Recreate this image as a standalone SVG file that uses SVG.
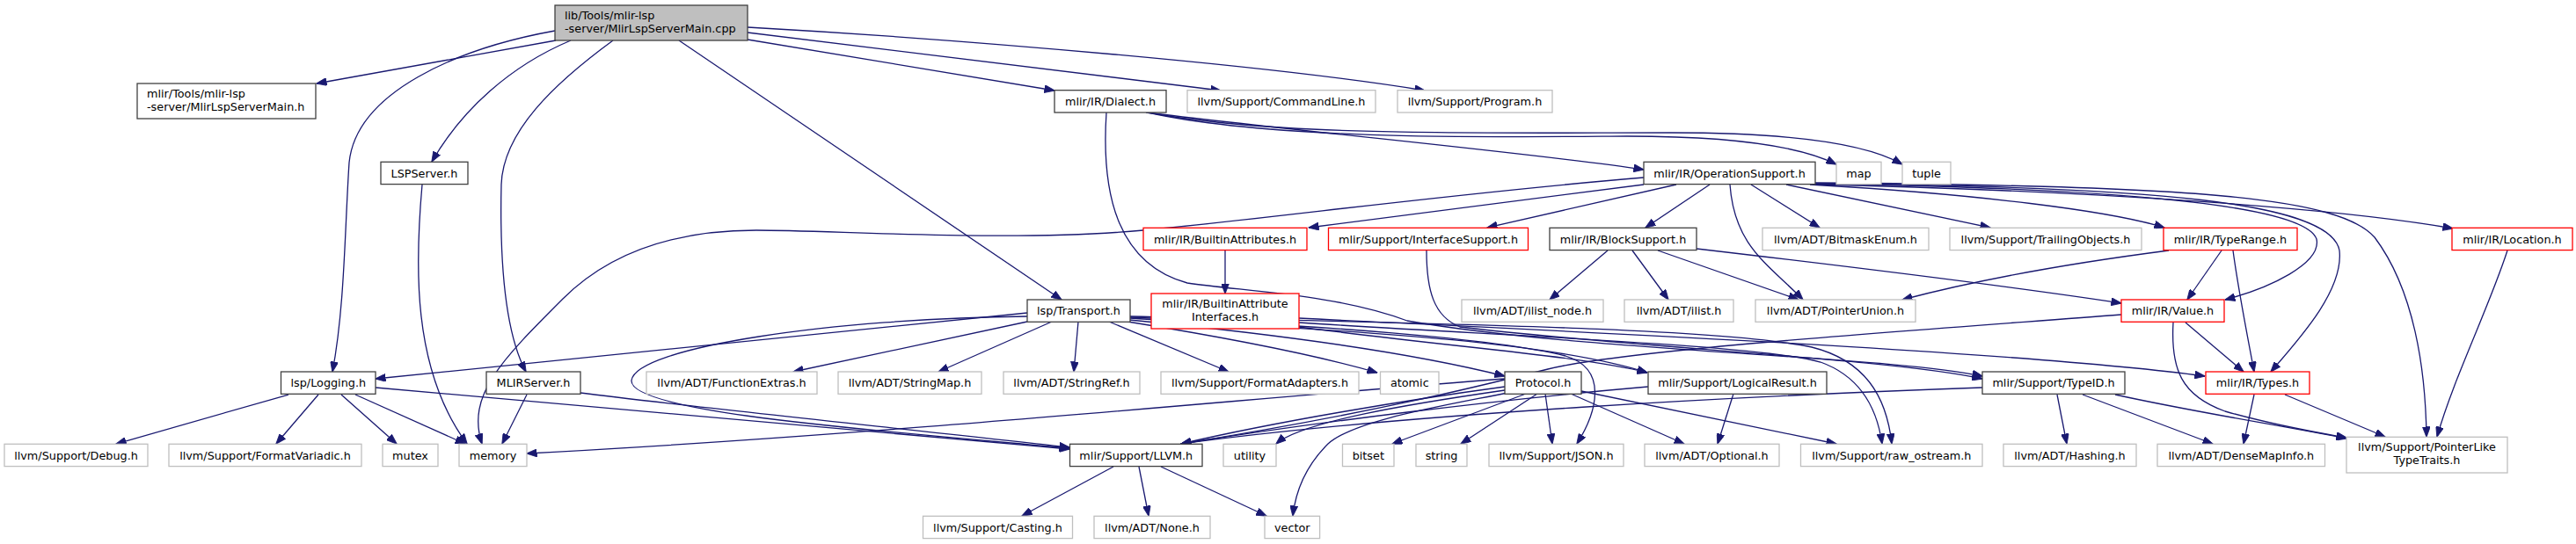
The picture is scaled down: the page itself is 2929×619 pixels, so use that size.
<svg xmlns="http://www.w3.org/2000/svg" width="2929" height="619" viewBox="0 0 2929 619">
<defs>
<marker id="ah" viewBox="0 0 12 9" refX="11.5" refY="4.5" markerWidth="12" markerHeight="9" markerUnits="userSpaceOnUse" orient="auto"><path d="M0,0L12,4.5L0,9z" fill="#191970" stroke="#191970" stroke-width="0.8"/></marker>
</defs>
<style>
text{font-family:"DejaVu Sans","Liberation Sans",sans-serif;font-size:12.8px;fill:#000;text-anchor:middle}
.l{text-anchor:start}
rect{stroke-width:1.3}
.g{fill:#fff;stroke:#bfbfbf}
.b{fill:#fff;stroke:#404040}
.r{fill:#fff;stroke:#ff0000}
.root{fill:#bfbfbf;stroke:#404040}
#edges path{fill:none;stroke:#191970;stroke-width:1.3;marker-end:url(#ah)}
</style>
<rect width="2929" height="619" fill="#fff"/>
<g id="edges">
<path d="M632,46 L360,95"/>
<path d="M649,46 C580,75 525,125 491,184"/>
<path d="M631,35 C520,55 405,105 397,185 C392,260 392,350 378,423"/>
<path d="M697,46 C630,95 572,150 570,210 C568,300 575,380 598,423"/>
<path d="M772,46 L1207,341"/>
<path d="M850,45 L1199,103"/>
<path d="M850,37 L1388,103"/>
<path d="M850,31 C1100,45 1450,75 1620,103"/>
<path d="M480,210 C472,300 468,420 531,505"/>
<path d="M328,449 L132,505"/>
<path d="M362,449 L314,505"/>
<path d="M388,449 L451,505"/>
<path d="M404,449 L529,505"/>
<path d="M427,441 L1216,511"/>
<path d="M599,449 L571,505"/>
<path d="M660,447 C760,460 1000,485 1216,509"/>
<path d="M1168,356 L427,431"/>
<path d="M1168,360 C950,362 722,395 718,433 C716,470 1000,490 1216,510"/>
<path d="M1168,366 L902,423"/>
<path d="M1196,366 L1067,423"/>
<path d="M1226,366 L1221,423"/>
<path d="M1261,366 L1397,423"/>
<path d="M1282,366 C1400,385 1500,405 1566,424"/>
<path d="M1284,364 C1450,380 1600,400 1711,428"/>
<path d="M1285,362 C1500,375 1750,385 1873,424"/>
<path d="M1285,360 C1600,368 1950,372 2060,395 C2120,410 2145,450 2151,505"/>
<path d="M1285,361 C1500,370 1700,385 1780,405 C1830,420 1815,470 1793,505"/>
<path d="M1258,128 C1252,220 1270,300 1350,322 C1420,332 1520,335 1600,365 C1800,400 2150,405 2254,428"/>
<path d="M1622,285 C1622,330 1630,360 1660,372 C1850,395 2150,408 2254,431"/>
<path d="M1477,362 C1800,378 2300,400 2507,428"/>
<path d="M1477,372 C1650,395 1800,405 1873,424"/>
<path d="M1477,367 C1700,382 2000,392 2070,412 C2120,430 2135,470 2140,505"/>
<path d="M2412,358 C2150,378 1850,398 1760,420 C1680,440 1560,470 1343,505"/>
<path d="M2254,441 C2000,450 1600,470 1343,505"/>
<path d="M1874,440 C1700,455 1500,480 1343,505"/>
<path d="M1711,440 C1600,455 1450,480 1343,505"/>
<path d="M1711,444 C1600,460 1480,480 1451,505"/>
<path d="M1714,447 C1640,462 1540,478 1510,505 C1485,530 1473,560 1470,587"/>
<path d="M1711,431 C1400,455 1000,495 599,516"/>
<path d="M1735,448 L1583,505"/>
<path d="M1748,448 L1661,505"/>
<path d="M1757,448 L1765,505"/>
<path d="M1786,448 L1915,505"/>
<path d="M1798,445 L2088,505"/>
<path d="M1971,448 L1953,505"/>
<path d="M2339,449 L2350,505"/>
<path d="M2368,449 L2516,505"/>
<path d="M2405,449 C2500,470 2600,485 2668,499"/>
<path d="M2563,449 L2551,505"/>
<path d="M2598,449 L2712,497"/>
<path d="M2485,367 L2551,423"/>
<path d="M2471,367 C2468,420 2480,450 2530,468 C2590,485 2640,493 2668,498"/>
<path d="M1266,531 L1162,587"/>
<path d="M1295,531 L1306,587"/>
<path d="M1320,531 L1440,587"/>
<path d="M1869,202 C1650,220 1450,248 1300,262 C1150,276 950,262 860,262 C760,262 690,290 640,340 C570,410 530,450 548,505"/>
<path d="M1869,210 L1488,259"/>
<path d="M1906,210 L1691,259"/>
<path d="M1944,210 L1871,259"/>
<path d="M1967,210 C1972,280 2010,300 2050,341"/>
<path d="M1991,210 L2069,259"/>
<path d="M2031,210 L2263,259"/>
<path d="M2058,210 C2250,221 2400,240 2461,259"/>
<path d="M2061,210 C2350,216 2650,235 2789,260"/>
<path d="M2062,209 C2400,214 2620,232 2634,272 C2640,300 2580,328 2530,341"/>
<path d="M2063,209 C2450,212 2650,230 2660,285 C2665,330 2615,385 2582,423"/>
<path d="M2064,208 C2500,211 2660,225 2700,270 C2745,330 2758,420 2759,497"/>
<path d="M2851,285 C2830,350 2790,430 2771,497"/>
<path d="M2526,285 L2487,341"/>
<path d="M2539,285 C2545,330 2555,380 2563,423"/>
<path d="M2466,285 C2350,300 2250,318 2163,341"/>
<path d="M1828,285 L1762,341"/>
<path d="M1856,285 L1897,341"/>
<path d="M1885,285 L2045,341"/>
<path d="M1929,283 C2100,303 2300,328 2412,345"/>
<path d="M1393,285 L1393,334"/>
<path d="M1303,128 C1500,152 1750,175 1869,193"/>
<path d="M1305,128 C1450,160 1700,156 1850,155 C1980,155 2050,168 2088,187"/>
<path d="M1307,128 C1450,156 1700,151 1900,151 C2060,151 2130,168 2163,187"/>
</g>
<g id="n_root"><rect class="root" x="631" y="6" width="219" height="40"/><text class="l" x="642" y="21.5">lib/Tools/mlir-lsp</text><text class="l" x="642" y="36.5">-server/MlirLspServerMain.cpp</text></g>
<g id="n_main"><rect class="b" x="156" y="95" width="203" height="40"/><text class="l" x="167" y="110.5">mlir/Tools/mlir-lsp</text><text class="l" x="167" y="125.5">-server/MlirLspServerMain.h</text></g>
<g id="n_dial"><rect class="b" x="1199" y="102.7" width="127" height="25.3"/><text x="1262.5" y="119.9">mlir/IR/Dialect.h</text></g>
<g id="n_cl"><rect class="g" x="1350" y="102.7" width="214" height="25.3"/><text x="1457" y="119.9">llvm/Support/CommandLine.h</text></g>
<g id="n_prog"><rect class="g" x="1589" y="102.7" width="176" height="25.3"/><text x="1677" y="119.9">llvm/Support/Program.h</text></g>
<g id="n_lsps"><rect class="b" x="433" y="184.3" width="99" height="25.3"/><text x="482.5" y="201.5">LSPServer.h</text></g>
<g id="n_os"><rect class="b" x="1869" y="184.3" width="195" height="25.3"/><text x="1966.5" y="201.5">mlir/IR/OperationSupport.h</text></g>
<g id="n_map"><rect class="g" x="2088" y="184.3" width="51" height="25.3"/><text x="2113.5" y="201.5">map</text></g>
<g id="n_tuple"><rect class="g" x="2163" y="184.3" width="55" height="25.3"/><text x="2190.5" y="201.5">tuple</text></g>
<g id="n_ba"><rect class="r" x="1300" y="259.3" width="186" height="25.3"/><text x="1393" y="276.5">mlir/IR/BuiltinAttributes.h</text></g>
<g id="n_is"><rect class="r" x="1510.5" y="259.3" width="227" height="25.3"/><text x="1624" y="276.5">mlir/Support/InterfaceSupport.h</text></g>
<g id="n_bs"><rect class="b" x="1762" y="259.3" width="167" height="25.3"/><text x="1845.5" y="276.5">mlir/IR/BlockSupport.h</text></g>
<g id="n_bme"><rect class="g" x="2004" y="259.3" width="189" height="25.3"/><text x="2098.5" y="276.5">llvm/ADT/BitmaskEnum.h</text></g>
<g id="n_to"><rect class="g" x="2217" y="259.3" width="218" height="25.3"/><text x="2326" y="276.5">llvm/Support/TrailingObjects.h</text></g>
<g id="n_tr"><rect class="r" x="2460" y="259.3" width="152" height="25.3"/><text x="2536" y="276.5">mlir/IR/TypeRange.h</text></g>
<g id="n_loc"><rect class="r" x="2788" y="259.3" width="137" height="25.3"/><text x="2856.5" y="276.5">mlir/IR/Location.h</text></g>
<g id="n_trans"><rect class="b" x="1168" y="341" width="117" height="25.3"/><text x="1226.5" y="358.2">lsp/Transport.h</text></g>
<g id="n_bai"><rect class="r" x="1309" y="334" width="168" height="40"/><text x="1393" y="349.5">mlir/IR/BuiltinAttribute</text><text x="1393" y="364.5">Interfaces.h</text></g>
<g id="n_iln"><rect class="g" x="1662" y="341" width="161" height="25.3"/><text x="1742.5" y="358.2">llvm/ADT/ilist_node.h</text></g>
<g id="n_il"><rect class="g" x="1847" y="341" width="124" height="25.3"/><text x="1909" y="358.2">llvm/ADT/ilist.h</text></g>
<g id="n_pu"><rect class="g" x="1996" y="341" width="182" height="25.3"/><text x="2087" y="358.2">llvm/ADT/PointerUnion.h</text></g>
<g id="n_val"><rect class="r" x="2412" y="341" width="117" height="25.3"/><text x="2470.5" y="358.2">mlir/IR/Value.h</text></g>
<g id="n_log"><rect class="b" x="319.5" y="423" width="107.5" height="25.3"/><text x="373.3" y="440.2">lsp/Logging.h</text></g>
<g id="n_mlirs"><rect class="b" x="553" y="423" width="107" height="25.3"/><text x="606.5" y="440.2">MLIRServer.h</text></g>
<g id="n_fe"><rect class="g" x="735" y="423" width="194" height="25.3"/><text x="832" y="440.2">llvm/ADT/FunctionExtras.h</text></g>
<g id="n_sm"><rect class="g" x="953" y="423" width="163" height="25.3"/><text x="1034.5" y="440.2">llvm/ADT/StringMap.h</text></g>
<g id="n_sr"><rect class="g" x="1141" y="423" width="155" height="25.3"/><text x="1218.5" y="440.2">llvm/ADT/StringRef.h</text></g>
<g id="n_fa"><rect class="g" x="1320" y="423" width="225" height="25.3"/><text x="1432.5" y="440.2">llvm/Support/FormatAdapters.h</text></g>
<g id="n_atomic"><rect class="g" x="1569.5" y="423" width="66.5" height="25.3"/><text x="1602.8" y="440.2">atomic</text></g>
<g id="n_proto"><rect class="b" x="1711" y="423" width="87" height="25.3"/><text x="1754.5" y="440.2">Protocol.h</text></g>
<g id="n_lr"><rect class="b" x="1874" y="423" width="203" height="25.3"/><text x="1975.5" y="440.2">mlir/Support/LogicalResult.h</text></g>
<g id="n_tid"><rect class="b" x="2254" y="423" width="162" height="25.3"/><text x="2335" y="440.2">mlir/Support/TypeID.h</text></g>
<g id="n_types"><rect class="r" x="2508" y="423" width="118" height="25.3"/><text x="2567" y="440.2">mlir/IR/Types.h</text></g>
<g id="n_dbg"><rect class="g" x="5" y="505.3" width="163" height="25.3"/><text x="86.5" y="522.5">llvm/Support/Debug.h</text></g>
<g id="n_fv"><rect class="g" x="192" y="505.3" width="219" height="25.3"/><text x="301.5" y="522.5">llvm/Support/FormatVariadic.h</text></g>
<g id="n_mutex"><rect class="g" x="435" y="505.3" width="63" height="25.3"/><text x="466.5" y="522.5">mutex</text></g>
<g id="n_mem"><rect class="g" x="522" y="505.3" width="77" height="25.3"/><text x="560.5" y="522.5">memory</text></g>
<g id="n_llvm"><rect class="b" x="1216.5" y="505.3" width="150.5" height="25.3"/><text x="1291.8" y="522.5">mlir/Support/LLVM.h</text></g>
<g id="n_util"><rect class="g" x="1391" y="505.3" width="60" height="25.3"/><text x="1421" y="522.5">utility</text></g>
<g id="n_bitset"><rect class="g" x="1526.5" y="505.3" width="58.5" height="25.3"/><text x="1555.8" y="522.5">bitset</text></g>
<g id="n_string"><rect class="g" x="1610" y="505.3" width="58" height="25.3"/><text x="1639" y="522.5">string</text></g>
<g id="n_json"><rect class="g" x="1693" y="505.3" width="153" height="25.3"/><text x="1769.5" y="522.5">llvm/Support/JSON.h</text></g>
<g id="n_opt"><rect class="g" x="1870" y="505.3" width="153" height="25.3"/><text x="1946.5" y="522.5">llvm/ADT/Optional.h</text></g>
<g id="n_ros"><rect class="g" x="2047.5" y="505.3" width="206.5" height="25.3"/><text x="2150.8" y="522.5">llvm/Support/raw_ostream.h</text></g>
<g id="n_hash"><rect class="g" x="2278" y="505.3" width="151" height="25.3"/><text x="2353.5" y="522.5">llvm/ADT/Hashing.h</text></g>
<g id="n_dmi"><rect class="g" x="2453" y="505.3" width="190.5" height="25.3"/><text x="2548.3" y="522.5">llvm/ADT/DenseMapInfo.h</text></g>
<g id="n_plt"><rect class="g" x="2668" y="497.3" width="183" height="40.7"/><text x="2759.5" y="512.8">llvm/Support/PointerLike</text><text x="2759.5" y="527.8">TypeTraits.h</text></g>
<g id="n_cast"><rect class="g" x="1049.5" y="587.3" width="170" height="25.3"/><text x="1134.5" y="604.5">llvm/Support/Casting.h</text></g>
<g id="n_none"><rect class="g" x="1244" y="587.3" width="132" height="25.3"/><text x="1310" y="604.5">llvm/ADT/None.h</text></g>
<g id="n_vec"><rect class="g" x="1438" y="587.3" width="62.6" height="25.3"/><text x="1469.3" y="604.5">vector</text></g>
</svg>
